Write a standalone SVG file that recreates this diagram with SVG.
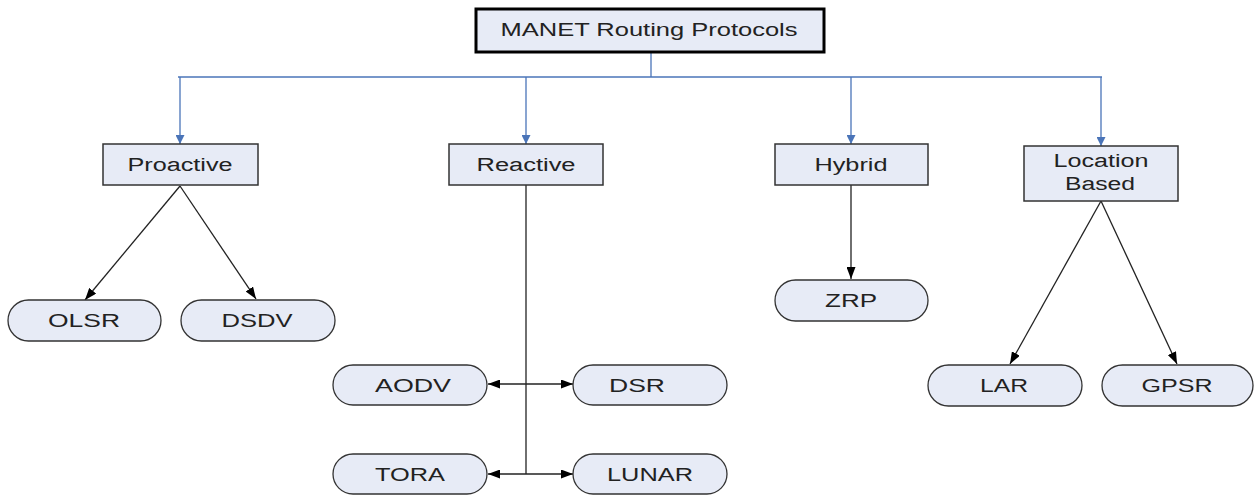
<svg xmlns="http://www.w3.org/2000/svg" width="1254" height="495" viewBox="0 0 1254 495">
<defs>
<marker id="ab" viewBox="0 0 10 10" refX="10" refY="5" markerWidth="12" markerHeight="9" markerUnits="userSpaceOnUse" orient="auto" preserveAspectRatio="none"><path d="M0,0 L10,5 L0,10 z" fill="#000"/></marker>
<marker id="ablue" viewBox="0 0 10 10" refX="10" refY="5" markerWidth="9" markerHeight="9" markerUnits="userSpaceOnUse" orient="auto"><path d="M0,0 L10,5 L0,10 z" fill="#4a74b8"/></marker>
</defs>
<style>
.box{fill:#e7ebf6;stroke:#333;stroke-width:1.5}
.root{fill:#e7ebf6;stroke:#000;stroke-width:3}
.pill{fill:#e7ebf6;stroke:#333;stroke-width:1.3}
.t{font-family:"Liberation Sans",Arial,sans-serif;font-size:18px;fill:#222;text-anchor:middle}
.c{stroke:#222;stroke-width:1.3;fill:none}
.b{stroke:#4a74b8;stroke-width:1.3;fill:none}
</style>
<rect width="1254" height="495" fill="#fff"/>
<g id="connectors">
<polyline class="b" points="651,52 651,77"/>
<line class="b" x1="178" y1="77" x2="1102" y2="77"/>
<line class="b" x1="180" y1="77" x2="180" y2="144" marker-end="url(#ablue)"/>
<line class="b" x1="526" y1="77" x2="526" y2="144" marker-end="url(#ablue)"/>
<line class="b" x1="851" y1="77" x2="851" y2="144" marker-end="url(#ablue)"/>
<line class="b" x1="1101" y1="77" x2="1101" y2="146" marker-end="url(#ablue)"/>
<line class="c" x1="180" y1="186" x2="85" y2="300" marker-end="url(#ab)"/>
<line class="c" x1="180" y1="186" x2="256" y2="299" marker-end="url(#ab)"/>
<line class="c" x1="526" y1="185" x2="526" y2="474"/>
<line class="c" x1="526" y1="384" x2="488" y2="384" marker-end="url(#ab)"/>
<line class="c" x1="526" y1="384" x2="573" y2="384" marker-end="url(#ab)"/>
<line class="c" x1="526" y1="474" x2="488" y2="474" marker-end="url(#ab)"/>
<line class="c" x1="526" y1="474" x2="573" y2="474" marker-end="url(#ab)"/>
<line class="c" x1="851" y1="185" x2="851" y2="279" marker-end="url(#ab)"/>
<line class="c" x1="1101" y1="201" x2="1010" y2="364" marker-end="url(#ab)"/>
<line class="c" x1="1101" y1="201" x2="1177" y2="364" marker-end="url(#ab)"/>
</g>
<g id="root"><rect class="root" x="476" y="9" width="348" height="43"/><text class="t" x="649" y="36" textLength="297" lengthAdjust="spacingAndGlyphs">MANET Routing Protocols</text></g>
<g id="proactive"><rect class="box" x="103" y="144" width="155" height="41"/><text class="t" x="180" y="171" textLength="105" lengthAdjust="spacingAndGlyphs">Proactive</text></g>
<g id="reactive"><rect class="box" x="449" y="144" width="154" height="41"/><text class="t" x="526" y="171" textLength="99" lengthAdjust="spacingAndGlyphs">Reactive</text></g>
<g id="hybrid"><rect class="box" x="775" y="144" width="153" height="41"/><text class="t" x="851" y="171" textLength="73" lengthAdjust="spacingAndGlyphs">Hybrid</text></g>
<g id="location"><rect class="box" x="1024" y="146" width="154" height="55"/><text class="t" x="1101" y="167" textLength="95" lengthAdjust="spacingAndGlyphs">Location</text><text class="t" x="1100" y="190" textLength="70" lengthAdjust="spacingAndGlyphs">Based</text></g>
<g id="olsr"><rect class="pill" x="8" y="300" width="153" height="41" rx="20.5"/><text class="t" x="84" y="327" textLength="72" lengthAdjust="spacingAndGlyphs">OLSR</text></g>
<g id="dsdv"><rect class="pill" x="181" y="300" width="154" height="41" rx="20.5"/><text class="t" x="257" y="327" textLength="71" lengthAdjust="spacingAndGlyphs">DSDV</text></g>
<g id="aodv"><rect class="pill" x="333" y="365" width="154" height="40" rx="20"/><text class="t" x="413" y="392" textLength="76" lengthAdjust="spacingAndGlyphs">AODV</text></g>
<g id="dsr"><rect class="pill" x="573" y="365" width="154" height="40" rx="20"/><text class="t" x="637" y="392" textLength="56" lengthAdjust="spacingAndGlyphs">DSR</text></g>
<g id="tora"><rect class="pill" x="333" y="454" width="154" height="40" rx="20"/><text class="t" x="410" y="481" textLength="70" lengthAdjust="spacingAndGlyphs">TORA</text></g>
<g id="lunar"><rect class="pill" x="573" y="454" width="154" height="40" rx="20"/><text class="t" x="650" y="481" textLength="86" lengthAdjust="spacingAndGlyphs">LUNAR</text></g>
<g id="zrp"><rect class="pill" x="775" y="280" width="153" height="41" rx="20.5"/><text class="t" x="851" y="307" textLength="52" lengthAdjust="spacingAndGlyphs">ZRP</text></g>
<g id="lar"><rect class="pill" x="928" y="365" width="154" height="41" rx="20.5"/><text class="t" x="1004" y="392" textLength="48" lengthAdjust="spacingAndGlyphs">LAR</text></g>
<g id="gpsr"><rect class="pill" x="1102" y="365" width="151" height="41" rx="20.5"/><text class="t" x="1177" y="392" textLength="71" lengthAdjust="spacingAndGlyphs">GPSR</text></g>
</svg>
